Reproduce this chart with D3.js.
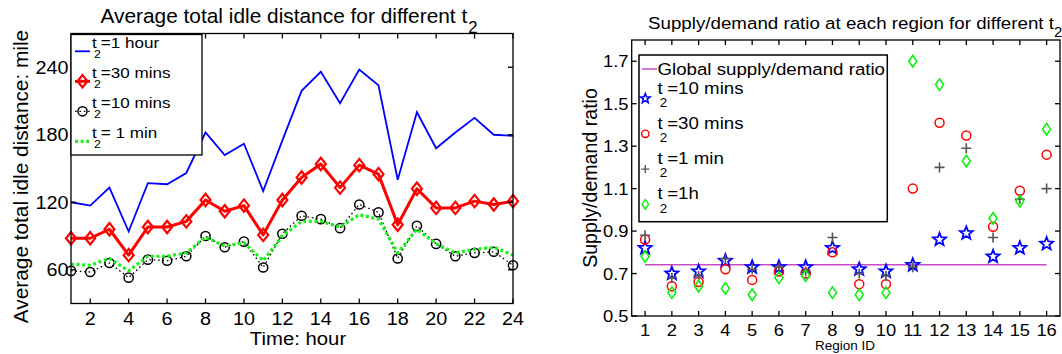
<!DOCTYPE html>
<html>
<head>
<meta charset="utf-8">
<script src="https://d3js.org/d3.v7.min.js"></script>
<style>
  html, body { margin: 0; padding: 0; background: #fff; }
  svg { display: block; font-family: "Liberation Sans", Arial, Helvetica, sans-serif; }
</style>
</head>
<body>
<svg id="fig" width="1062" height="354"></svg>
<script>
// ---- Left panel: average total idle distance per hour ----
const hours = [1,2,3,4,5,6,7,8,9,10,11,12,13,14,15,16,17,18,19,20,21,22,23,24];
const idle1h  = [120,117,133,94,137,136,146,182,162,172,130,175,219,236,208,238,224,140,200,168,182,195,180,179];
const idle30m = [88,88,96,73,98,98,103,122,112,117,91,122,142,154,133,153,145,100,132,115,115,121,118,121];
const idle10m = [59,58,66,53,69,68,72,90,80,85,62,92,108,105,97,118,111,70,99,83,72,75,76,64];
const idle1m  = [65,64,70,59,72,72,75,89,81,84,68,90,103,103,98,109,105,75,96,83,75,78,80,73];
const leftXTicks = [2,4,6,8,10,12,14,16,18,20,22,24];
const leftYTicks = [60,120,180,240];

// ---- Right panel: supply/demand ratio per region ----
const regions = [1,2,3,4,5,6,7,8,9,10,11,12,13,14,15,16];
const ratio10m = [0.82,0.70,0.71,0.76,0.73,0.73,0.73,0.82,0.72,0.71,0.74,0.86,0.89,0.78,0.82,0.84];
const ratio30m = [0.86,0.64,0.66,0.72,0.67,0.71,0.70,0.80,0.65,0.65,1.10,1.41,1.35,0.92,1.09,1.26];
const ratio1m  = [0.88,0.68,0.69,0.77,0.72,0.73,0.71,0.87,0.70,0.69,0.73,1.20,1.29,0.87,1.05,1.10];
const ratio1h  = [0.78,0.61,0.64,0.63,0.60,0.68,0.69,0.61,0.60,0.61,1.70,1.59,1.23,0.96,1.04,1.38];
const globalRatio = 0.741;
const rightXTicks = regions;
const rightYTicks = [0.5,0.7,0.9,1.1,1.3,1.5,1.7];

const svg = d3.select("#fig");

// Text made of plain and subscript pieces, laid out one after another by
// measuring each piece; the group may be stretched horizontally.
function label(g, x, y, parts, opt) {
  const o = Object.assign({size: 16, sx: 1, anchor: "start", rotate: 0,
                           subSize: 0.72, subDy: 0.55, subShift: 0}, opt);
  let tf = `translate(${x},${y})`;
  if (o.rotate) tf += ` rotate(${o.rotate})`;
  if (o.sx !== 1) tf += ` scale(${o.sx},1)`;
  const grp = g.append("g").attr("transform", tf);
  let cx = 0;
  const nodes = [];
  parts.forEach(p => {
    const isSub = typeof p !== "string";
    if (isSub) cx -= o.size * o.subShift;
    const t = grp.append("text")
      .attr("x", cx)
      .attr("y", isSub ? o.size * o.subDy : 0)
      .attr("font-size", isSub ? o.size * o.subSize : o.size)
      .attr("fill", "#000")
      .text(isSub ? p.sub : p);
    nodes.push(t);
    cx += t.node().getComputedTextLength();
  });
  const shift = o.anchor === "middle" ? -cx / 2 : o.anchor === "end" ? -cx : 0;
  if (shift) nodes.forEach(t => t.attr("x", +t.attr("x") + shift));
  return grp;
}

function boxAxes(g, x, y, xTicks, yTicks, tickLen) {
  const [x0, x1] = x.range();
  const [y1, y0] = y.range();
  const ax = g.append("g").attr("stroke", "#000").attr("stroke-width", 1.3);
  xTicks.forEach(v => {
    ax.append("line").attr("x1", x(v)).attr("x2", x(v)).attr("y1", y1).attr("y2", y1 - tickLen);
    ax.append("line").attr("x1", x(v)).attr("x2", x(v)).attr("y1", y0).attr("y2", y0 + tickLen);
  });
  yTicks.forEach(v => {
    ax.append("line").attr("y1", y(v)).attr("y2", y(v)).attr("x1", x0).attr("x2", x0 + tickLen);
    ax.append("line").attr("y1", y(v)).attr("y2", y(v)).attr("x1", x1).attr("x2", x1 - tickLen);
  });
  ax.append("rect").attr("x", x0).attr("y", y0).attr("width", x1 - x0).attr("height", y1 - y0)
    .attr("fill", "none");
}

const diamondPath = (w, h) => `M0,${-h}L${w},0L0,${h}L${-w},0Z`;
function starPath(ro, ri) {
  let d = "";
  for (let i = 0; i < 10; i++) {
    const a = -Math.PI / 2 + i * Math.PI / 5;
    const r = i % 2 === 0 ? ro : ri;
    d += (i === 0 ? "M" : "L") + (r * Math.cos(a)).toFixed(2) + "," + (r * Math.sin(a)).toFixed(2);
  }
  return d + "Z";
}
const plusPath = s => `M${-s},0H${s}M0,${-s}V${s}`;

// ================= Left panel =================
{
  const g = svg.append("g");
  const x = d3.scaleLinear().domain([1, 24]).range([71, 513]);
  const y = d3.scaleLinear().domain([30, 270]).range([303.5, 33.5]);
  const line = vals => d3.line().x((d, i) => x(hours[i])).y(d => y(d))(vals);

  const plot = g.append("g");
  plot.append("path").attr("d", line(idle1h)).attr("fill", "none")
    .attr("stroke", "#0000ff").attr("stroke-width", 1.8);
  plot.append("path").attr("d", line(idle30m)).attr("fill", "none")
    .attr("stroke", "#ff0000").attr("stroke-width", 3).attr("stroke-linejoin", "round");
  plot.selectAll("path.d30").data(idle30m).join("path").attr("class", "d30")
    .attr("transform", (d, i) => `translate(${x(hours[i])},${y(d)})`)
    .attr("d", diamondPath(5, 6.2)).attr("fill", "none").attr("stroke", "#ff0000").attr("stroke-width", 2.2);
  plot.append("path").attr("d", line(idle10m)).attr("fill", "none")
    .attr("stroke", "#000").attr("stroke-width", 1.3).attr("stroke-dasharray", "1.6,2.8");
  plot.selectAll("circle.c10").data(idle10m).join("circle").attr("class", "c10")
    .attr("cx", (d, i) => x(hours[i])).attr("cy", d => y(d)).attr("r", 4.6)
    .attr("fill", "none").attr("stroke", "#000").attr("stroke-width", 1.5);
  plot.append("path").attr("d", line(idle1m)).attr("fill", "none")
    .attr("stroke", "#18f018").attr("stroke-width", 3.2).attr("stroke-dasharray", "3,2.6");

  boxAxes(g, x, y, leftXTicks, leftYTicks, 5);

  leftXTicks.forEach(v => label(g, x(v), 324.5, [String(v)], {size: 18.5, sx: 1.07, anchor: "middle"}));
  leftYTicks.forEach(v => label(g, 68.5, y(v) + 6.7, [String(v)], {size: 18.5, sx: 1.07, anchor: "end"}));

  label(g, 289, 23, ["Average total idle distance for different t", {sub: "2"}],
    {size: 19.5, sx: 1.07, anchor: "middle", subSize: 0.8, subDy: 0.52, subShift: -0.05});
  label(g, 298, 345, ["Time: hour"], {size: 19, sx: 1.07, anchor: "middle"});
  label(g, 28, 176.5, ["Average total idle distance: mile"], {size: 20.8, anchor: "middle", rotate: -90});

  // legend
  const lg = g.append("g");
  lg.append("rect").attr("x", 71).attr("y", 34.5).attr("width", 131).attr("height", 120.5)
    .attr("fill", "#fff").attr("stroke", "#000").attr("stroke-width", 1.3);
  const entries = [
    {name: "=1 hour", kind: "blue"},
    {name: "=30 mins", kind: "red"},
    {name: "=10 mins", kind: "black"},
    {name: " = 1 min", kind: "green"}
  ];
  entries.forEach((e, i) => {
    const by = 48.3 + i * 30;
    const sy = by + 3;
    const sx0 = 75, sx1 = 90, sm = 82.5;
    if (e.kind === "blue") {
      lg.append("line").attr("x1", sx0).attr("x2", sx1).attr("y1", sy).attr("y2", sy)
        .attr("stroke", "#0000ff").attr("stroke-width", 1.8);
    } else if (e.kind === "red") {
      lg.append("line").attr("x1", sx0).attr("x2", sx1).attr("y1", sy).attr("y2", sy)
        .attr("stroke", "#ff0000").attr("stroke-width", 3);
      lg.append("path").attr("transform", `translate(${sm},${sy})`).attr("d", diamondPath(5, 6.2))
        .attr("fill", "none").attr("stroke", "#ff0000").attr("stroke-width", 2.2);
    } else if (e.kind === "black") {
      lg.append("line").attr("x1", sx0).attr("x2", sx1).attr("y1", sy).attr("y2", sy)
        .attr("stroke", "#000").attr("stroke-width", 1.3).attr("stroke-dasharray", "1.6,2.8");
      lg.append("circle").attr("cx", sm).attr("cy", sy).attr("r", 4.6)
        .attr("fill", "none").attr("stroke", "#000").attr("stroke-width", 1.5);
    } else {
      lg.append("line").attr("x1", sx0).attr("x2", sx1).attr("y1", sy).attr("y2", sy)
        .attr("stroke", "#18f018").attr("stroke-width", 3.2).attr("stroke-dasharray", "3,2.6");
    }
    label(lg, 92, by, ["t", {sub: "2"}, e.name],
      {size: 15.5, sx: 1.1, subSize: 0.72, subDy: 0.6, subShift: 0.16});
  });
}

// ================= Right panel =================
{
  const g = svg.append("g");
  const x = d3.scaleLinear().domain([0.5, 16.5]).range([631.7, 1060]);
  const y = d3.scaleLinear().domain([0.5, 1.8]).range([316, 40]);

  const plot = g.append("g");
  plot.append("line").attr("x1", x(regions[0])).attr("x2", x(regions[regions.length - 1]))
    .attr("y1", y(globalRatio)).attr("y2", y(globalRatio))
    .attr("stroke", "#c64cc8").attr("stroke-width", 1.5);
  plot.selectAll("path.s10").data(ratio10m).join("path").attr("class", "s10")
    .attr("transform", (d, i) => `translate(${x(regions[i])},${y(d)})`)
    .attr("d", starPath(6.8, 2.9)).attr("fill", "none").attr("stroke", "#0000ff").attr("stroke-width", 1.8)
    .attr("stroke-linejoin", "miter");
  plot.selectAll("circle.c30").data(ratio30m).join("circle").attr("class", "c30")
    .attr("cx", (d, i) => x(regions[i])).attr("cy", d => y(d)).attr("r", 4.5)
    .attr("fill", "none").attr("stroke", "#ff0000").attr("stroke-width", 1.5);
  plot.selectAll("path.p1").data(ratio1m).join("path").attr("class", "p1")
    .attr("transform", (d, i) => `translate(${x(regions[i])},${y(d)})`)
    .attr("d", plusPath(5)).attr("fill", "none").attr("stroke", "#555").attr("stroke-width", 1.6);
  plot.selectAll("path.d1h").data(ratio1h).join("path").attr("class", "d1h")
    .attr("transform", (d, i) => `translate(${x(regions[i])},${y(d)})`)
    .attr("d", diamondPath(4, 5.8)).attr("fill", "none").attr("stroke", "#10ee10").attr("stroke-width", 1.6);

  boxAxes(g, x, y, rightXTicks, rightYTicks, 5);

  rightXTicks.forEach(v => label(g, x(v), 336, [String(v)], {size: 16.8, sx: 1.09, anchor: "middle"}));
  rightYTicks.forEach(v => label(g, 628.5, y(v) + 6, [d3.format(".1f")(v)], {size: 16.8, sx: 1.09, anchor: "end"}));

  label(g, 648, 29.3, ["Supply/demand ratio at each region for different t", {sub: "2"}],
    {size: 17.2, sx: 1.09, subSize: 0.8, subDy: 0.45});
  label(g, 845, 350, ["Region ID"], {size: 12.5, sx: 1.08, anchor: "middle"});
  label(g, 597, 178, ["Supply/demand ratio"], {size: 19.6, anchor: "middle", rotate: -90});

  // legend
  const lg = g.append("g");
  lg.append("rect").attr("x", 639).attr("y", 55).attr("width", 248.3).attr("height", 166.7)
    .attr("fill", "#fff").attr("stroke", "#000").attr("stroke-width", 1.5);
  lg.append("line").attr("x1", 642).attr("x2", 657).attr("y1", 69).attr("y2", 69)
    .attr("stroke", "#c64cc8").attr("stroke-width", 1.5);
  label(lg, 657.5, 75, ["Global supply/demand ratio"], {size: 17, sx: 1.1});
  const entries = [
    {name: "=10 mins", kind: "star"},
    {name: "=30 mins", kind: "circle"},
    {name: "=1 min", kind: "plus"},
    {name: "=1h", kind: "diamond"}
  ];
  entries.forEach((e, i) => {
    const by = 93.5 + i * 35.3;
    const my = by + 5;
    const mx = 645.3;
    if (e.kind === "star") {
      lg.append("path").attr("transform", `translate(${mx},${my})`).attr("d", starPath(5, 2.1))
        .attr("fill", "none").attr("stroke", "#0000ff").attr("stroke-width", 1.6);
    } else if (e.kind === "circle") {
      lg.append("circle").attr("cx", mx).attr("cy", my).attr("r", 3.7)
        .attr("fill", "none").attr("stroke", "#ff0000").attr("stroke-width", 1.4);
    } else if (e.kind === "plus") {
      lg.append("path").attr("transform", `translate(${mx},${my})`).attr("d", plusPath(4))
        .attr("fill", "none").attr("stroke", "#555").attr("stroke-width", 1.4);
    } else {
      lg.append("path").attr("transform", `translate(${mx},${my})`).attr("d", diamondPath(3.3, 4.8))
        .attr("fill", "none").attr("stroke", "#10ee10").attr("stroke-width", 1.4);
    }
    label(lg, 657.5, by, ["t", {sub: "2"}, e.name],
      {size: 17, sx: 1.1, subSize: 0.72, subDy: 0.78, subShift: 0.16});
  });
}
</script>
</body>
</html>
